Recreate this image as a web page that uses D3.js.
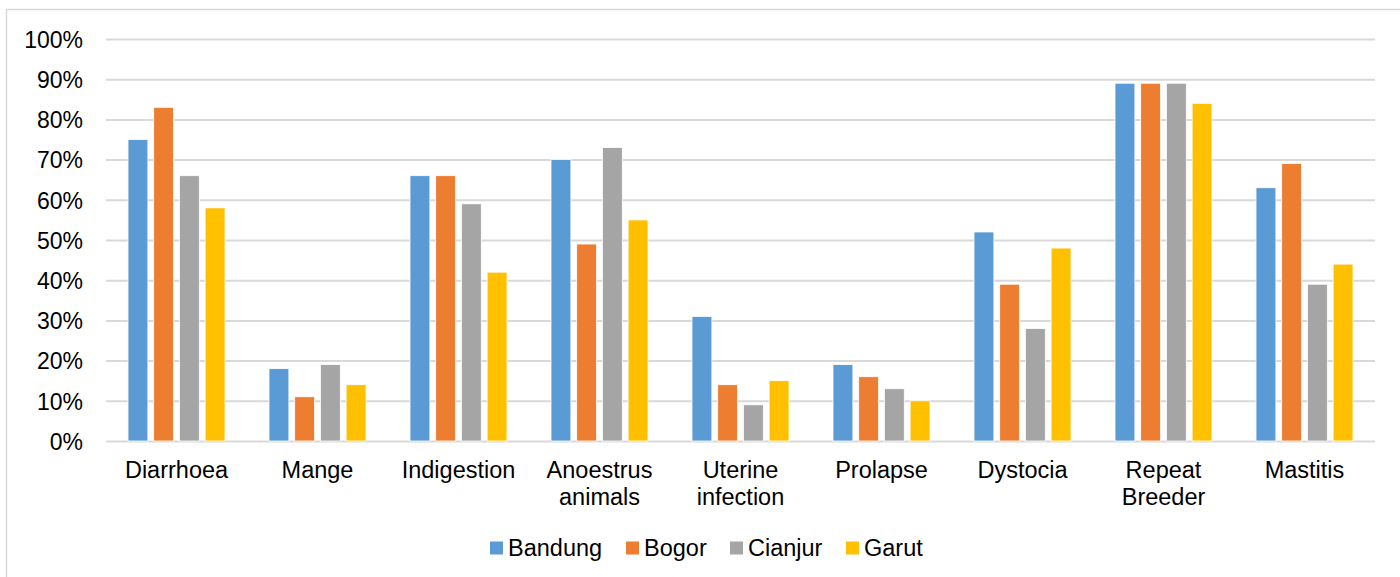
<!DOCTYPE html>
<html>
<head>
<meta charset="utf-8">
<script src="https://cdn.jsdelivr.net/npm/d3@7/dist/d3.min.js"></script>
<style>
  html, body { margin: 0; padding: 0; background: #fff; }
  svg { display: block; font-family: "Liberation Sans", Arial, sans-serif; }
</style>
</head>
<body>
<svg id="chart" width="1400" height="577"></svg>
<script>
// Share of farms reporting each health problem, by district
const categories = [
  ["Diarrhoea"], ["Mange"], ["Indigestion"], ["Anoestrus", "animals"],
  ["Uterine", "infection"], ["Prolapse"], ["Dystocia"], ["Repeat", "Breeder"], ["Mastitis"]
];
const seriesNames = ["Bandung", "Bogor", "Cianjur", "Garut"];
const bandung = [75, 18, 66, 70, 31, 19, 52, 89, 63];
const bogor   = [83, 11, 66, 49, 14, 16, 39, 89, 69];
const cianjur = [66, 19, 59, 73,  9, 13, 28, 89, 39];
const garut   = [58, 14, 42, 55, 15, 10, 48, 84, 44];
const seriesValues = [bandung, bogor, cianjur, garut];
const colors = ["#5B9BD5", "#ED7D31", "#A5A5A5", "#FFC000"];
const yTicks = [0, 10, 20, 30, 40, 50, 60, 70, 80, 90, 100];

const svg = d3.select("#chart");
const plot = { left: 106, right: 1375, top: 39, bottom: 441 };

// Outer chart frame
svg.append("rect")
  .attr("x", 6.5).attr("y", 9.5)
  .attr("width", 1420).attr("height", 600)
  .attr("fill", "#fff").attr("stroke", "#d9d9d9").attr("stroke-width", 1.5);

const y = d3.scaleLinear().domain([0, 100]).range([plot.bottom, plot.top]);
const x = d3.scaleBand()
  .domain(categories.map(c => c.join(" ")))
  .range([plot.left, plot.right])
  .paddingInner(0).paddingOuter(0);
const groupPad = 22;
const xs = d3.scaleBand()
  .domain(seriesNames)
  .range([groupPad, x.bandwidth() - groupPad])
  .paddingInner(0.226).paddingOuter(0);

// Gridlines and percentage ticks
const yAxis = d3.axisLeft(y)
  .tickValues(yTicks)
  .tickSize(-(plot.right - plot.left))
  .tickFormat(d => d + "%");
const gy = svg.append("g")
  .attr("transform", `translate(${plot.left},0)`)
  .call(yAxis);
gy.select(".domain").remove();
gy.selectAll(".tick line").attr("stroke", "#d9d9d9").attr("stroke-width", 2);
gy.selectAll(".tick text")
  .attr("x", -23)
  .attr("dy", "0.36em")
  .attr("fill", "#000")
  .style("font-size", "23px")
  .style("font-family", "'Liberation Sans', Arial, sans-serif");

// Bars
const groups = svg.append("g").selectAll("g")
  .data(categories)
  .join("g")
  .attr("transform", c => `translate(${x(c.join(" "))},0)`);
groups.selectAll("rect")
  .data((c, i) => seriesNames.map((s, k) => ({ s, v: seriesValues[k][i], k })))
  .join("rect")
  .attr("x", d => xs(d.s))
  .attr("width", xs.bandwidth())
  .attr("y", d => y(d.v))
  .attr("height", d => y(0) - y(d.v))
  .attr("fill", d => colors[d.k])
  .attr("stroke", "#fff")
  .attr("stroke-width", 0.8);

// Category labels (x axis, no line)
const xAxis = d3.axisBottom(x).tickSize(0).tickFormat("");
const gx = svg.append("g")
  .attr("transform", `translate(0,${plot.bottom})`)
  .call(xAxis);
gx.select(".domain").remove();
gx.selectAll(".tick").each(function (d) {
  const lines = categories.find(c => c.join(" ") === d);
  const t = d3.select(this).append("text")
    .attr("text-anchor", "middle")
    .attr("fill", "#000")
    .style("font-size", "23.5px")
    .style("font-family", "'Liberation Sans', Arial, sans-serif");
  lines.forEach((ln, i) => {
    t.append("tspan").attr("x", 0).attr("y", 37 + i * 26.5).text(ln);
  });
});

// Legend
const legendPos = [490, 626, 730, 846];
const legend = svg.append("g").selectAll("g")
  .data(seriesNames)
  .join("g")
  .attr("transform", (d, i) => `translate(${legendPos[i]},0)`);
legend.append("rect")
  .attr("x", 0).attr("y", 541.5)
  .attr("width", 13).attr("height", 13)
  .attr("fill", (d, i) => colors[i]);
legend.append("text")
  .attr("x", 18).attr("y", 556)
  .attr("fill", "#000")
  .style("font-size", "23.5px")
  .text(d => d);
</script>
</body>
</html>
